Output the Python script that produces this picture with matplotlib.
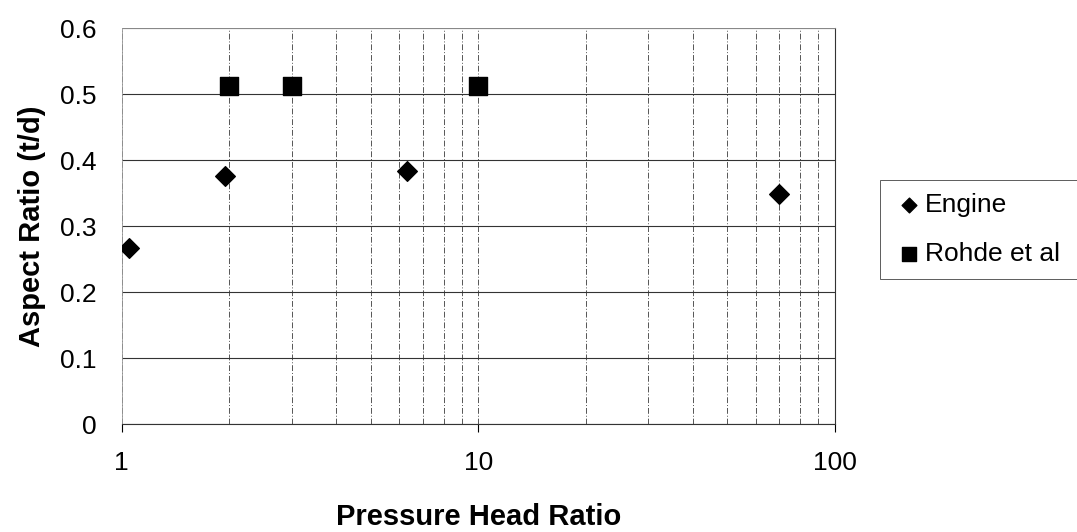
import matplotlib.pyplot as plt
from matplotlib.ticker import LogLocator, NullFormatter, FixedLocator

plt.rcParams['font.family'] = ['Liberation Sans', 'DejaVu Sans']

# data
engine_x = [1.05, 1.95, 6.3, 70]
engine_y = [0.267, 0.376, 0.383, 0.348]
rohde_x = [2, 3, 10]
rohde_y = [0.512, 0.512, 0.512]

fig = plt.figure(figsize=(10.77, 5.32), dpi=100)
ax = fig.add_axes([0.113, 0.203, 0.662, 0.744])

ax.scatter(engine_x, engine_y, marker='D', s=100, color='black', label='Engine', zorder=3)
ax.scatter(rohde_x, rohde_y, marker='s', s=170, color='black', label='Rohde et al', zorder=3)

ax.set_xscale('log')
ax.set_xlim(1, 100)
ax.set_ylim(0, 0.6)
ax.set_yticks([0, 0.1, 0.2, 0.3, 0.4, 0.5, 0.6])
ax.set_yticklabels(['0', '0.1', '0.2', '0.3', '0.4', '0.5', '0.6'])
ax.xaxis.set_major_locator(FixedLocator([1, 10, 100]))
ax.set_xticklabels(['1', '10', '100'])
ax.xaxis.set_minor_locator(LogLocator(base=10, subs=range(2, 10)))
ax.xaxis.set_minor_formatter(NullFormatter())

ax.grid(True, axis='y', color='#333333', lw=0.8)
ax.grid(True, axis='x', which='both', color='#555555', lw=0.7, ls=(0, (6, 2, 1, 2)))

for s in ['left', 'top']:
    ax.spines[s].set_color('#999999')
    ax.spines[s].set_linewidth(0.6)
for s in ['right', 'bottom']:
    ax.spines[s].set_color('#333333')
    ax.spines[s].set_linewidth(0.8)

ax.tick_params(axis='y', length=0, pad=18, labelsize=19)
ax.tick_params(axis='x', which='major', length=5.5, direction='out', pad=14, labelsize=19)
ax.tick_params(axis='x', which='minor', length=0)

ax.set_xlabel('Pressure Head Ratio', fontsize=21, fontweight='bold', labelpad=20)
ax.set_ylabel('Aspect Ratio (t/d)', fontsize=21, fontweight='bold', labelpad=10)

leg = fig.legend(loc='upper left', bbox_to_anchor=(0.817, 0.662, 0.19, 0), mode='expand',
                 fontsize=19, frameon=True, fancybox=False, edgecolor='#333333',
                 handletextpad=0.0, handlelength=1.2, markerscale=0.75,
                 borderpad=0.5, labelspacing=0.95, borderaxespad=0)
leg.get_frame().set_linewidth(0.7)

fig.savefig('out.png', dpi=100)
